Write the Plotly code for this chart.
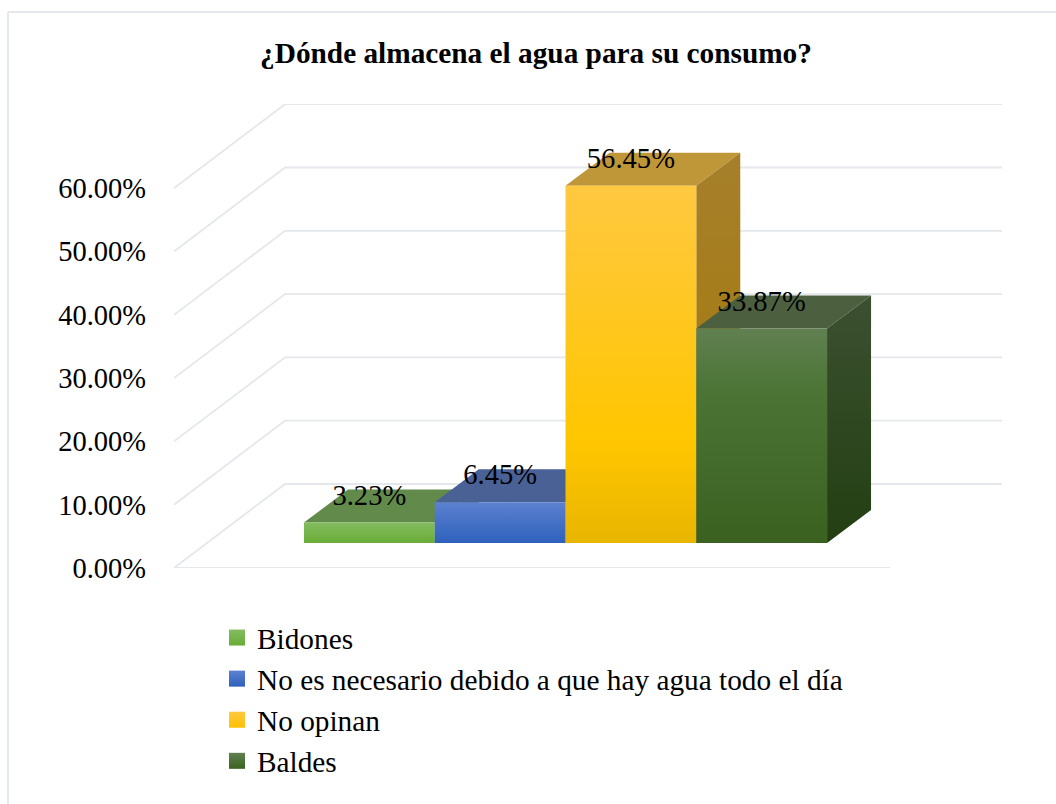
import plotly.graph_objects as go

# Chart data
title_text = "¿Dónde almacena el agua para su consumo?"
categories = ["Bidones", "No es necesario debido a que hay agua todo el día", "No opinan", "Baldes"]
values = [3.23, 6.45, 56.45, 33.87]
value_labels = ["3.23%", "6.45%", "56.45%", "33.87%"]
tick_values = [0, 10, 20, 30, 40, 50, 60]
tick_labels = ["0.00%", "10.00%", "20.00%", "30.00%", "40.00%", "50.00%", "60.00%"]

# Face colours per bar, gradients listed from the bottom edge upwards
front_stops = [
    [[0, "#69ac36"], [1, "#84bc60"]],
    [[0, "#2e61bc"], [1, "#5d81d0"]],
    [[0, "#e8b500"], [0.28, "#ffc600"], [1, "#ffc840"]],
    [[0, "#3b6120"], [0.7, "#4b7435"], [1, "#618051"]],
]
side_stops = [
    [[0, "#457425"], [1, "#4f7f35"]],
    [[0, "#224a8e"], [1, "#3a5a9a"]],
    [[0, "#a47900"], [1, "#a67f2c"]],
    [[0, "#233f12"], [1, "#3c5031"]],
]
top_colors = ["#628a4a", "#4a6196", "#c09738", "#4c6040"]
legend_top = ["#84bc60", "#5d81d0", "#ffc840", "#618051"]
legend_bottom = ["#69ac36", "#2e61bc", "#ffc000", "#3b6120"]
grid_color = "#e4e7ec"

# Box geometry in axis units
depth_x, depth_y = 0.3365, 5.21
wall_x, wall_y = 0.849, 13.27
x_left, x_floor_end, x_right = -0.994, 4.482, 5.338
floor_lift = 3.95
y_top = 73.3

fig = go.Figure()

# Side wall, back wall and floor gridlines
grid_x, grid_y = [], []
for t in tick_values:
    grid_x += [x_left, x_left + wall_x, x_right, None]
    grid_y += [t, t + wall_y, t + wall_y, None]
grid_x += [x_left, x_floor_end]
grid_y += [0, 0]
fig.add_trace(go.Scatter(x=grid_x, y=grid_y, mode="lines", showlegend=False, hoverinfo="skip",
                         line=dict(color=grid_color, width=1.8)))


def face(xs, ys, **style):
    fig.add_trace(go.Scatter(x=xs, y=ys, yaxis="y2", mode="lines", fill="toself",
                             line=dict(width=0), showlegend=False, hoverinfo="skip", **style))


# Bars, painted left to right so each front covers its neighbour's side
for i, v in enumerate(values):
    x0, x1 = i, i + 1
    face([x0, x1, x1 + depth_x, x0 + depth_x, x0], [v, v, v + depth_y, v + depth_y, v],
         fillcolor=top_colors[i])
    face([x1, x1 + depth_x, x1 + depth_x, x1, x1], [0, depth_y, v + depth_y, v, 0],
         fillgradient=dict(type="vertical", colorscale=side_stops[i]))
    face([x0, x1, x1, x0, x0], [0, 0, v, v, 0],
         fillgradient=dict(type="vertical", colorscale=front_stops[i]))

# Value labels sit on the top face of each bar
fig.add_trace(go.Scatter(x=[i + 0.5 for i in range(4)], y=[v + 3.95 for v in values], yaxis="y2",
                         mode="text", text=value_labels, textposition="middle center",
                         textfont=dict(family="Liberation Serif", size=28.6, color="#000000"),
                         showlegend=False, hoverinfo="skip"))

# Legend entries
for i, name in enumerate(categories):
    fig.add_trace(go.Scatter(x=[None], y=[None], mode="markers", name=name, legendgroup=name,
                             marker=dict(symbol="square", size=16, color=legend_top[i],
                                         gradient=dict(type="vertical", color=legend_bottom[i]))))

fig.update_layout(
    width=1056, height=804, autosize=False,
    margin=dict(l=0, r=0, t=0, b=0, autoexpand=False),
    paper_bgcolor="white", plot_bgcolor="white",
    font=dict(family="Liberation Serif", color="#000000"),
    title=dict(text="<b>" + title_text + "</b>", x=536 / 1056, xanchor="center",
               y=1 - 53 / 804, yanchor="middle", font=dict(size=29.3)),
    xaxis=dict(domain=[174 / 1056, 1002 / 1056], range=[x_left, x_right], visible=False),
    yaxis=dict(domain=[(804 - 568) / 804, (804 - 104) / 804], range=[0, y_top],
               tickvals=tick_values, ticktext=tick_labels, showgrid=False, zeroline=False,
               showline=False, ticks="", ticklabelstandoff=27,
               tickfont=dict(family="Liberation Serif", size=28.5, color="#000000")),
    yaxis2=dict(domain=[(804 - 568) / 804, (804 - 104) / 804], overlaying="y",
                range=[-floor_lift, y_top - floor_lift], visible=False),
    legend=dict(x=217 / 1056, y=1 - 612 / 804, xanchor="left", yanchor="top",
                orientation="v", traceorder="normal", tracegroupgap=21,
                bgcolor="rgba(0,0,0,0)", font=dict(family="Liberation Serif", size=29.3, color="#000000")),
    shapes=[
        dict(type="line", xref="paper", yref="paper", x0=8 / 1056, x1=1, y0=1 - 12 / 804, y1=1 - 12 / 804,
             line=dict(color=grid_color, width=2)),
        dict(type="line", xref="paper", yref="paper", x0=8 / 1056, x1=8 / 1056, y0=0, y1=1 - 12 / 804,
             line=dict(color=grid_color, width=2)),
    ],
)

fig.write_html("out.html")
